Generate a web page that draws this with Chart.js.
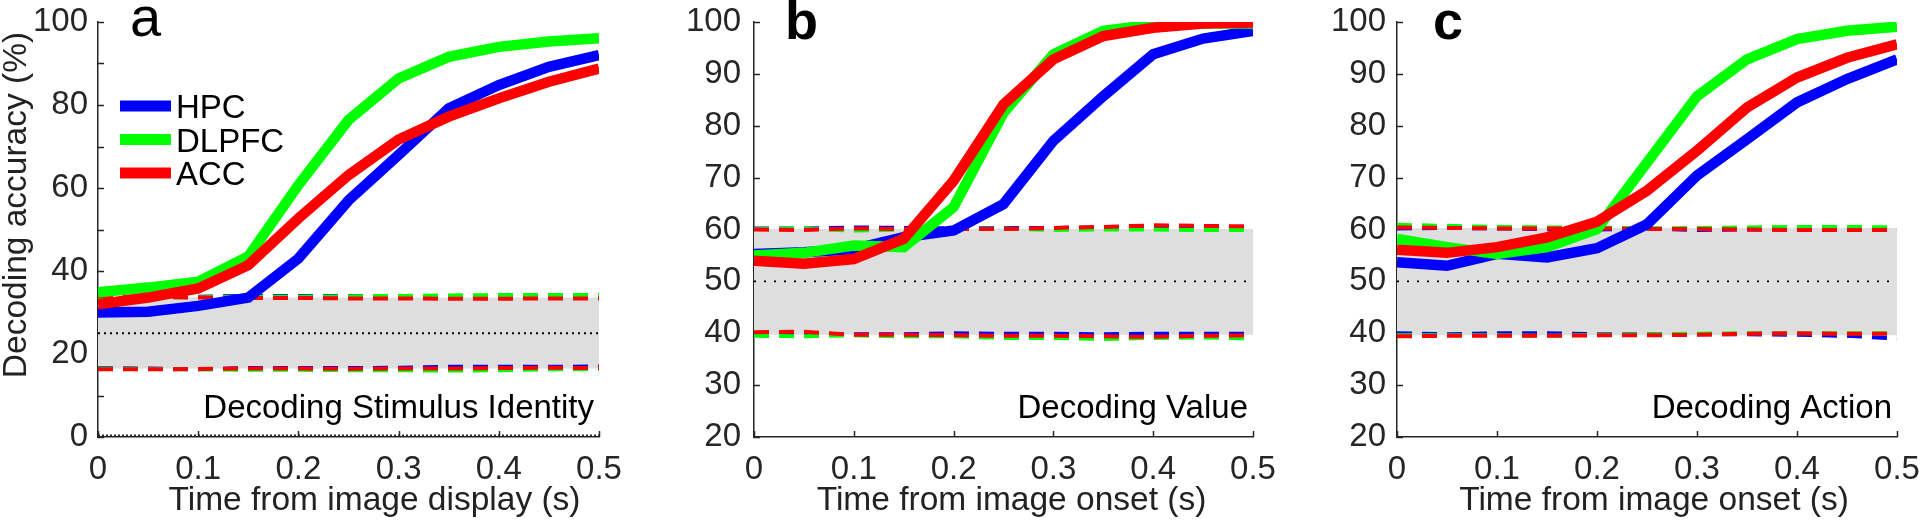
<!DOCTYPE html>
<html>
<head>
<meta charset="utf-8">
<script src="https://cdn.jsdelivr.net/npm/chart.js@4/dist/chart.umd.min.js"></script>
<style>
  html, body { margin: 0; padding: 0; background: #fff; }
  #wrap { position: relative; width: 1920px; height: 524px; overflow: hidden; }
  canvas { position: absolute; top: 0; }
</style>
</head>
<body>
<div id="wrap">
  <canvas id="panelA" width="640" height="524" style="left:0px;width:640px;height:524px"></canvas>
  <canvas id="panelB" width="640" height="524" style="left:640px;width:640px;height:524px"></canvas>
  <canvas id="panelC" width="640" height="524" style="left:1280px;width:640px;height:524px"></canvas>
</div>
<script>
// Thời gian (s) của các điểm dữ liệu
const times = [0, 0.05, 0.1, 0.15, 0.2, 0.25, 0.3, 0.35, 0.4, 0.45, 0.5];
const xTicks = [0, 0.1, 0.2, 0.3, 0.4, 0.5];
const xTickLabels = ["0", "0.1", "0.2", "0.3", "0.4", "0.5"];
const yTicksA = [0, 10, 20, 30, 40, 50, 60, 70, 80, 90, 100];
const yTickLabelsA = ["0", "", "20", "", "40", "", "60", "", "80", "", "100"];
const yTicksBC = [20, 30, 40, 50, 60, 70, 80, 90, 100];
const yTickLabelsBC = ["20", "30", "40", "50", "60", "70", "80", "90", "100"];
const regions = ["HPC", "DLPFC", "ACC"];

// a: Decoding Stimulus Identity
const aHpc = [30.0, 30.2, 31.6, 33.6, 43.0, 57.0, 68.0, 79.2, 84.8, 89.2, 92.0];
const aDlpfc = [34.9, 36.0, 37.4, 43.5, 60.7, 76.4, 86.4, 91.6, 94.0, 95.3, 96.1];
const aAcc = [32.0, 33.6, 35.8, 41.4, 52.7, 63.1, 71.7, 77.2, 81.6, 85.6, 88.8];
const aHiHpc = [33.8, 33.8, 33.8, 34.0, 34.0, 34.0, 33.9, 33.9, 33.9, 33.9, 33.9];
const aHiDlpfc = [33.6, 33.7, 33.7, 33.8, 33.8, 33.9, 34.0, 34.1, 34.2, 34.2, 34.2];
const aHiAcc = [33.9, 33.7, 33.6, 33.5, 33.5, 33.4, 33.4, 33.3, 33.3, 33.4, 33.4];
const aLoHpc = [16.6, 16.5, 16.3, 16.6, 16.6, 16.6, 16.7, 16.9, 16.9, 16.9, 17.0];
const aLoDlpfc = [16.5, 16.4, 16.3, 16.2, 16.2, 16.1, 16.1, 16.0, 16.1, 16.3, 16.4];
const aLoAcc = [16.3, 16.3, 16.4, 16.5, 16.5, 16.4, 16.5, 16.5, 16.6, 16.7, 16.6];
const aBandLo = [16.5, 16.5, 16.5, 16.5, 16.5, 16.5, 16.5, 16.5, 16.5, 16.5, 16.5];
const aBandHi = [33.6, 33.6, 33.6, 33.6, 33.6, 33.6, 33.6, 33.6, 33.6, 33.6, 33.6];
const aChance = [25, 25, 25, 25, 25, 25, 25, 25, 25, 25, 25];
const aFloor = [0.4, 0.4, 0.4, 0.4, 0.4, 0.4, 0.4, 0.4, 0.4, 0.4, 0.4];

// b: Decoding Value
const bHpc = [55.3, 55.6, 56.2, 58.5, 59.8, 64.9, 77.1, 85.7, 93.8, 96.8, 98.3];
const bDlpfc = [55.0, 55.5, 56.9, 56.6, 64.3, 82.5, 93.8, 98.3, 99.5, 99.7, 99.7];
const bAcc = [54.0, 53.4, 54.3, 58.2, 69.4, 84.1, 92.8, 97.3, 98.9, 99.7, 99.9];
const bHiHpc = [60.2, 60.2, 60.4, 60.3, 60.2, 60.3, 60.3, 60.4, 60.6, 60.5, 60.4];
const bHiDlpfc = [60.1, 60.2, 59.8, 60.0, 60.1, 60.2, 59.9, 60.0, 60.0, 59.9, 59.9];
const bHiAcc = [60.0, 59.9, 60.2, 60.1, 60.1, 60.1, 60.3, 60.5, 60.8, 60.7, 60.6];
const bLoHpc = [40.0, 39.9, 39.8, 39.8, 40.0, 39.9, 39.9, 39.8, 39.9, 39.9, 39.9];
const bLoDlpfc = [39.5, 39.4, 39.6, 39.4, 39.4, 39.1, 39.1, 38.9, 39.1, 39.2, 39.0];
const bLoAcc = [40.2, 40.3, 39.7, 39.7, 39.6, 39.5, 39.5, 39.4, 39.3, 39.5, 39.6];
const bBandLo = [39.7, 39.7, 39.7, 39.7, 39.7, 39.7, 39.7, 39.7, 39.7, 39.7, 39.7];
const bBandHi = [60.1, 60.1, 60.1, 60.1, 60.1, 60.1, 60.1, 60.1, 60.1, 60.1, 60.1];
const bChance = [50, 50, 50, 50, 50, 50, 50, 50, 50, 50, 50];

// c: Decoding Action
const cHpc = [53.7, 53.0, 55.3, 54.6, 56.4, 61.0, 70.4, 77.4, 84.5, 89.0, 92.8];
const cDlpfc = [58.2, 56.6, 55.3, 56.6, 60.1, 72.9, 85.7, 92.8, 96.7, 98.3, 99.1];
const cAcc = [56.1, 55.5, 56.6, 58.5, 61.5, 67.5, 75.2, 83.5, 89.3, 93.1, 95.7];
const cHiHpc = [60.2, 60.3, 60.2, 60.1, 60.0, 60.2, 59.9, 60.0, 60.0, 60.0, 60.0];
const cHiDlpfc = [60.9, 60.7, 60.5, 60.4, 60.4, 60.2, 60.3, 60.4, 60.5, 60.5, 60.4];
const cHiAcc = [60.4, 60.3, 60.2, 60.2, 60.2, 60.1, 60.1, 60.0, 59.9, 59.9, 59.9];
const cLoHpc = [40.0, 39.8, 40.0, 40.0, 39.8, 39.8, 39.8, 39.8, 39.7, 39.5, 39.0];
const cLoDlpfc = [39.6, 39.6, 39.6, 39.5, 39.7, 39.8, 39.9, 40.0, 40.0, 40.0, 40.0];
const cLoAcc = [39.4, 39.5, 39.5, 39.5, 39.6, 39.6, 39.7, 39.9, 40.0, 39.9, 39.9];
const cBandLo = [39.6, 39.6, 39.6, 39.6, 39.6, 39.6, 39.6, 39.6, 39.6, 39.6, 39.6];
const cBandHi = [60.3, 60.3, 60.3, 60.3, 60.3, 60.3, 60.3, 60.3, 60.3, 60.3, 60.3];
const cChance = [50, 50, 50, 50, 50, 50, 50, 50, 50, 50, 50];

const colors = ["#0000ff", "#00ff00", "#ff0000"];
const axisColor = "#262626";
const fontFamily = "'Liberation Sans', Arial, sans-serif";

function pts(arr) {
  return times.map((t, i) => ({ x: t, y: arr[i] }));
}

function line(arr, color, width, dash, order) {
  return {
    data: pts(arr),
    borderColor: color,
    borderWidth: width,
    borderDash: dash,
    pointRadius: 0,
    tension: 0,
    fill: false,
    order: order,
  };
}

// Vạch chia hướng vào trong (kiểu MATLAB)
const inwardTicks = {
  id: "inwardTicks",
  beforeDatasetsDraw(chart) {
    const { ctx, chartArea: a, scales } = chart;
    ctx.save();
    ctx.strokeStyle = axisColor;
    ctx.lineWidth = 1.5;
    ctx.beginPath();
    scales.y.ticks.forEach((t) => {
      const y = Math.round(scales.y.getPixelForValue(t.value)) + 0.5;
      ctx.moveTo(a.left, y);
      ctx.lineTo(a.left + 6, y);
    });
    scales.x.ticks.forEach((t) => {
      const x = Math.round(scales.x.getPixelForValue(t.value)) + 0.5;
      ctx.moveTo(x, a.bottom);
      ctx.lineTo(x, a.bottom - 6);
    });
    ctx.stroke();
    ctx.restore();
  },
};

// Chữ cái, nhãn, tiêu đề trục và chú giải
const panelText = {
  id: "panelText",
  afterDraw(chart, args, o) {
    const { ctx, chartArea: a } = chart;
    ctx.save();
    ctx.fillStyle = "#000";
    ctx.textBaseline = "alphabetic";

    ctx.font = (o.letterBold ? "bold " : "") + o.letterSize + "px " + fontFamily;
    ctx.textAlign = "left";
    ctx.fillText(o.letter, a.left + o.letterDx, o.letterY);

    ctx.font = "33px " + fontFamily;
    ctx.textAlign = "right";
    ctx.fillText(o.note, a.right - 5, a.bottom - 19);

    ctx.fillStyle = "#222";
    ctx.textAlign = "center";
    ctx.font = "33.5px " + fontFamily;
    ctx.fillText(o.xTitle, (a.left + a.right) / 2 + o.xTitleDx, 510);

    if (o.yTitle) {
      ctx.save();
      ctx.translate(26, 205);
      ctx.rotate(-Math.PI / 2);
      ctx.fillText(o.yTitle, 0, 0);
      ctx.restore();
    }

    if (o.legend) {
      ctx.fillStyle = "#000";
      ctx.font = "33px " + fontFamily;
      ctx.textAlign = "left";
      regions.forEach((name, i) => {
        const y = 106 + i * 33.5;
        ctx.strokeStyle = colors[i];
        ctx.lineWidth = 11;
        ctx.beginPath();
        ctx.moveTo(120, y);
        ctx.lineTo(171, y);
        ctx.stroke();
        ctx.fillText(name, 176, y + 12);
      });
    }
    ctx.restore();
  },
};

function makePanel(id, cfg) {
  const datasets = [
    line(cfg.hpc, colors[0], 10.5, [], 3),
    line(cfg.dlpfc, colors[1], 10.5, [], 2),
    line(cfg.acc, colors[2], 10.5, [], 1),
    line(cfg.hi[0], colors[0], 4, [15, 10], 6),
    line(cfg.hi[1], colors[1], 4, [15, 10], 5),
    line(cfg.hi[2], colors[2], 4, [15, 10], 4),
    line(cfg.lo[0], colors[0], 4, [15, 10], 9),
    line(cfg.lo[1], colors[1], 4, [15, 10], 8),
    line(cfg.lo[2], colors[2], 4, [15, 10], 7),
    line(cfg.chance, "#000", 1.8, [2, cfg.dotGap], 10),
    line(cfg.bandLo, "rgba(0,0,0,0)", 0, [], 12),
    Object.assign(line(cfg.bandHi, "rgba(0,0,0,0)", 0, [], 11), {
      fill: "-1",
      backgroundColor: "#dedede",
    }),
  ];
  if (cfg.floor) datasets.push(line(cfg.floor, axisColor, 1.5, [2, 2], 13));

  const ctx = document.getElementById(id).getContext("2d");
  return new Chart(ctx, {
    type: "line",
    data: { datasets: datasets },
    options: {
      responsive: false,
      animation: false,
      events: [],
      layout: { padding: { top: 22, right: cfg.padRight, bottom: 0, left: 0 } },
      plugins: {
        legend: { display: false },
        tooltip: { enabled: false },
        panelText: cfg.text,
      },
      scales: {
        x: {
          type: "linear",
          min: 0,
          max: 0.5,
          grid: { display: false, drawTicks: false },
          border: { display: true, color: axisColor, width: 1.5 },
          afterBuildTicks: (s) => { s.ticks = xTicks.map((v) => ({ value: v })); },
          afterFit: (s) => { s.height = 87; s.paddingLeft = 0; s.paddingRight = 0; },
          ticks: {
            autoSkip: false,
            maxRotation: 0,
            padding: 13,
            color: axisColor,
            font: { family: fontFamily, size: 33 },
            callback: (v, i) => xTickLabels[i],
          },
        },
        y: {
          min: cfg.yTicks[0],
          max: cfg.yTicks[cfg.yTicks.length - 1],
          grid: { display: false, drawTicks: false },
          border: { display: true, color: axisColor, width: 1.5 },
          afterBuildTicks: (s) => { s.ticks = cfg.yTicks.map((v) => ({ value: v })); },
          afterFit: (s) => { s.width = cfg.yWidth; s.paddingTop = 0; s.paddingBottom = 0; },
          ticks: {
            autoSkip: false,
            padding: cfg.yPad,
            color: axisColor,
            font: { family: fontFamily, size: 33 },
            callback: (v, i) => cfg.yLabels[i],
          },
        },
      },
    },
    plugins: [inwardTicks, panelText],
  });
}

makePanel("panelA", {
  hpc: aHpc, dlpfc: aDlpfc, acc: aAcc,
  hi: [aHiHpc, aHiDlpfc, aHiAcc], lo: [aLoHpc, aLoDlpfc, aLoAcc],
  bandLo: aBandLo, bandHi: aBandHi, chance: aChance, floor: aFloor, dotGap: 4,
  yTicks: yTicksA, yLabels: yTickLabelsA, yWidth: 98, yPad: 10, padRight: 41,
  text: { letter: "a", letterBold: false, letterSize: 56, letterDx: 32, letterY: 36,
          note: "Decoding Stimulus Identity", xTitle: "Time from image display (s)", xTitleDx: 26,
          yTitle: "Decoding accuracy (%)", legend: true },
});

makePanel("panelB", {
  hpc: bHpc, dlpfc: bDlpfc, acc: bAcc,
  hi: [bHiHpc, bHiDlpfc, bHiAcc], lo: [bLoHpc, bLoDlpfc, bLoAcc],
  bandLo: bBandLo, bandHi: bBandHi, chance: bChance, dotGap: 8,
  yTicks: yTicksBC, yLabels: yTickLabelsBC, yWidth: 114, yPad: 13, padRight: 27,
  text: { letter: "b", letterBold: true, letterSize: 54, letterDx: 31, letterY: 39,
          note: "Decoding Value", xTitle: "Time from image onset (s)", xTitleDx: 8 },
});

makePanel("panelC", {
  hpc: cHpc, dlpfc: cDlpfc, acc: cAcc,
  hi: [cHiHpc, cHiDlpfc, cHiAcc], lo: [cLoHpc, cLoDlpfc, cLoAcc],
  bandLo: cBandLo, bandHi: cBandHi, chance: cChance, dotGap: 8,
  yTicks: yTicksBC, yLabels: yTickLabelsBC, yWidth: 117, yPad: 11, padRight: 23,
  text: { letter: "c", letterBold: true, letterSize: 54, letterDx: 36, letterY: 39,
          note: "Decoding Action", xTitle: "Time from image onset (s)", xTitleDx: 7 },
});
</script>
</body>
</html>
